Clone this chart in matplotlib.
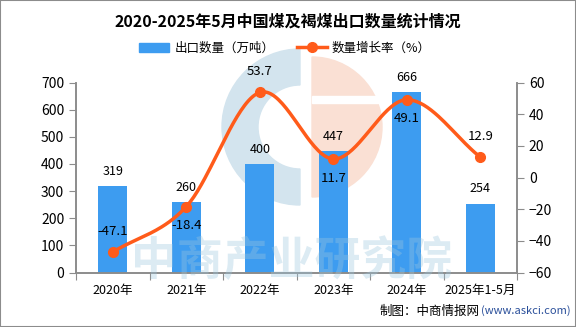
import numpy as np
import matplotlib
matplotlib.use('Agg')
import matplotlib.pyplot as plt
from matplotlib.patches import Patch, Wedge, Rectangle
from matplotlib.lines import Line2D

plt.rcParams['font.family'] = ['Noto Sans CJK SC', 'DejaVu Sans']

# export volume (10k tonnes) and growth rate (%)
years = ['2020年', '2021年', '2022年', '2023年', '2024年', '2025年1-5月']
volume = [319, 260, 400, 447, 666, 254]
growth = [-47.1, -18.4, 53.7, 11.7, 49.1, 12.9]
# where each growth label sits relative to its marker
growth_label_pos = ['above', 'below', 'above', 'below', 'below', 'above']

bar_color = '#3d9cf0'
line_color = '#ff5b1a'
axis_color = '#8c8c8c'


def catmull_rom(xs, ys, n=40):
    # smooth curve through every point
    xs = np.asarray(xs, float)
    ys = np.asarray(ys, float)
    px = np.concatenate([[2 * xs[0] - xs[1]], xs, [2 * xs[-1] - xs[-2]]])
    py = np.concatenate([[2 * ys[0] - ys[1]], ys, [2 * ys[-1] - ys[-2]]])
    out_x, out_y = [], []
    t = np.linspace(0, 1, n)
    for i in range(1, len(px) - 2):
        for p, out in ((px, out_x), (py, out_y)):
            p0, p1, p2, p3 = p[i - 1], p[i], p[i + 1], p[i + 2]
            out.extend(0.5 * (2 * p1 + (-p0 + p2) * t
                              + (2 * p0 - 5 * p1 + 4 * p2 - p3) * t ** 2
                              + (-p0 + 3 * p1 - 3 * p2 + p3) * t ** 3))
    return np.array(out_x), np.array(out_y)


fig = plt.figure(figsize=(5.76, 3.27), dpi=100)

# faint logo behind the chart
logo = fig.add_axes([0, 0, 1, 1], zorder=0)
logo.set_xlim(0, 576)
logo.set_ylim(327, 0)
logo.set_aspect('equal')
logo.axis('off')
logo.add_patch(Wedge((300, 127), 78, 90, 270, width=36, color='#d3e4ee'))
logo.add_patch(Wedge((312, 127), 70, 270, 90, color='#fae0d4'))
logo.add_patch(Rectangle((312, 96), 80, 7, color='white'))

ax = fig.add_axes([76 / 576, 1 - 272.5 / 327, 441 / 576, 190 / 327], zorder=1)
ax.patch.set_alpha(0)
ax2 = ax.twinx()

x = np.arange(len(years))
ax.bar(x, volume, width=0.4, color=bar_color, zorder=2)
for xi, v in zip(x, volume):
    ax.text(xi, v + 30, str(v), ha='center', va='bottom', fontsize=9)

ax.set_ylim(0, 700)
ax.set_yticks(range(0, 701, 100))
ax.set_xlim(-0.5, len(years) - 0.5)
ax.set_xticks(np.arange(-0.5, len(years), 1))
ax.set_xticklabels([])
ax.set_xticks(x, minor=True)
ax.set_xticklabels(years, minor=True, fontsize=9)
ax.tick_params(axis='x', which='minor', length=0, pad=8)
ax.tick_params(axis='x', which='major', length=5, color=axis_color)
ax.tick_params(axis='y', length=5, color=axis_color, labelsize=10)

sx, sy = catmull_rom(x, growth)
ax2.plot(sx, sy, color=line_color, lw=2.5, zorder=3)
ax2.plot(x, growth, 'o', color=line_color, ms=7, zorder=4)
for xi, g, pos in zip(x, growth, growth_label_pos):
    off = 9 if pos == 'above' else -8
    ax2.text(xi, g + off, f'{g:.1f}', ha='center',
             va='bottom' if pos == 'above' else 'top', fontsize=9.5)
ax2.set_ylim(-60, 60)
ax2.set_yticks(range(-60, 61, 20))
ax2.set_yticklabels([str(v).replace('-', '−') for v in range(-60, 61, 20)])
ax2.tick_params(axis='y', length=5, color=axis_color, labelsize=10)

for a in (ax, ax2):
    a.spines['top'].set_visible(False)
    for s in ('left', 'right', 'bottom'):
        a.spines[s].set_color(axis_color)
        a.spines[s].set_linewidth(1.2)

# watermark text drawn over the bars
fig.text(292 / 576, 1 - 262 / 327, '中商产业研究院', ha='center', va='center',
         fontsize=33, fontweight='bold', color='#9cc6de', alpha=0.35, zorder=5)

fig.suptitle('2020-2025年5月中国煤及褐煤出口数量统计情况', y=1 - 22 / 327,
             va='center', fontsize=11.5, fontweight='bold')

handles = [Patch(color=bar_color),
           Line2D([], [], color=line_color, lw=2.5, marker='o', ms=7)]
fig.legend(handles, ['出口数量（万吨）', '数量增长率（%）'], ncol=2,
           loc='center', bbox_to_anchor=(285 / 576, 1 - 48 / 327),
           frameon=False, fontsize=9, handlelength=2.4, columnspacing=1.8,
           handletextpad=0.4)

fig.text(480 / 576, 1 - 311 / 327, '制图：中商情报网', ha='right', va='center',
         fontsize=9)
fig.text(481 / 576, 1 - 311 / 327, '(www.askci.com)', ha='left', va='center',
         fontsize=8, color='#2a4f9a')

fig.add_artist(Rectangle((0, 0), 1, 1, transform=fig.transFigure, fill=False,
                         edgecolor='#8c8c8c', lw=1.5))

fig.savefig('out.png', dpi=100)
